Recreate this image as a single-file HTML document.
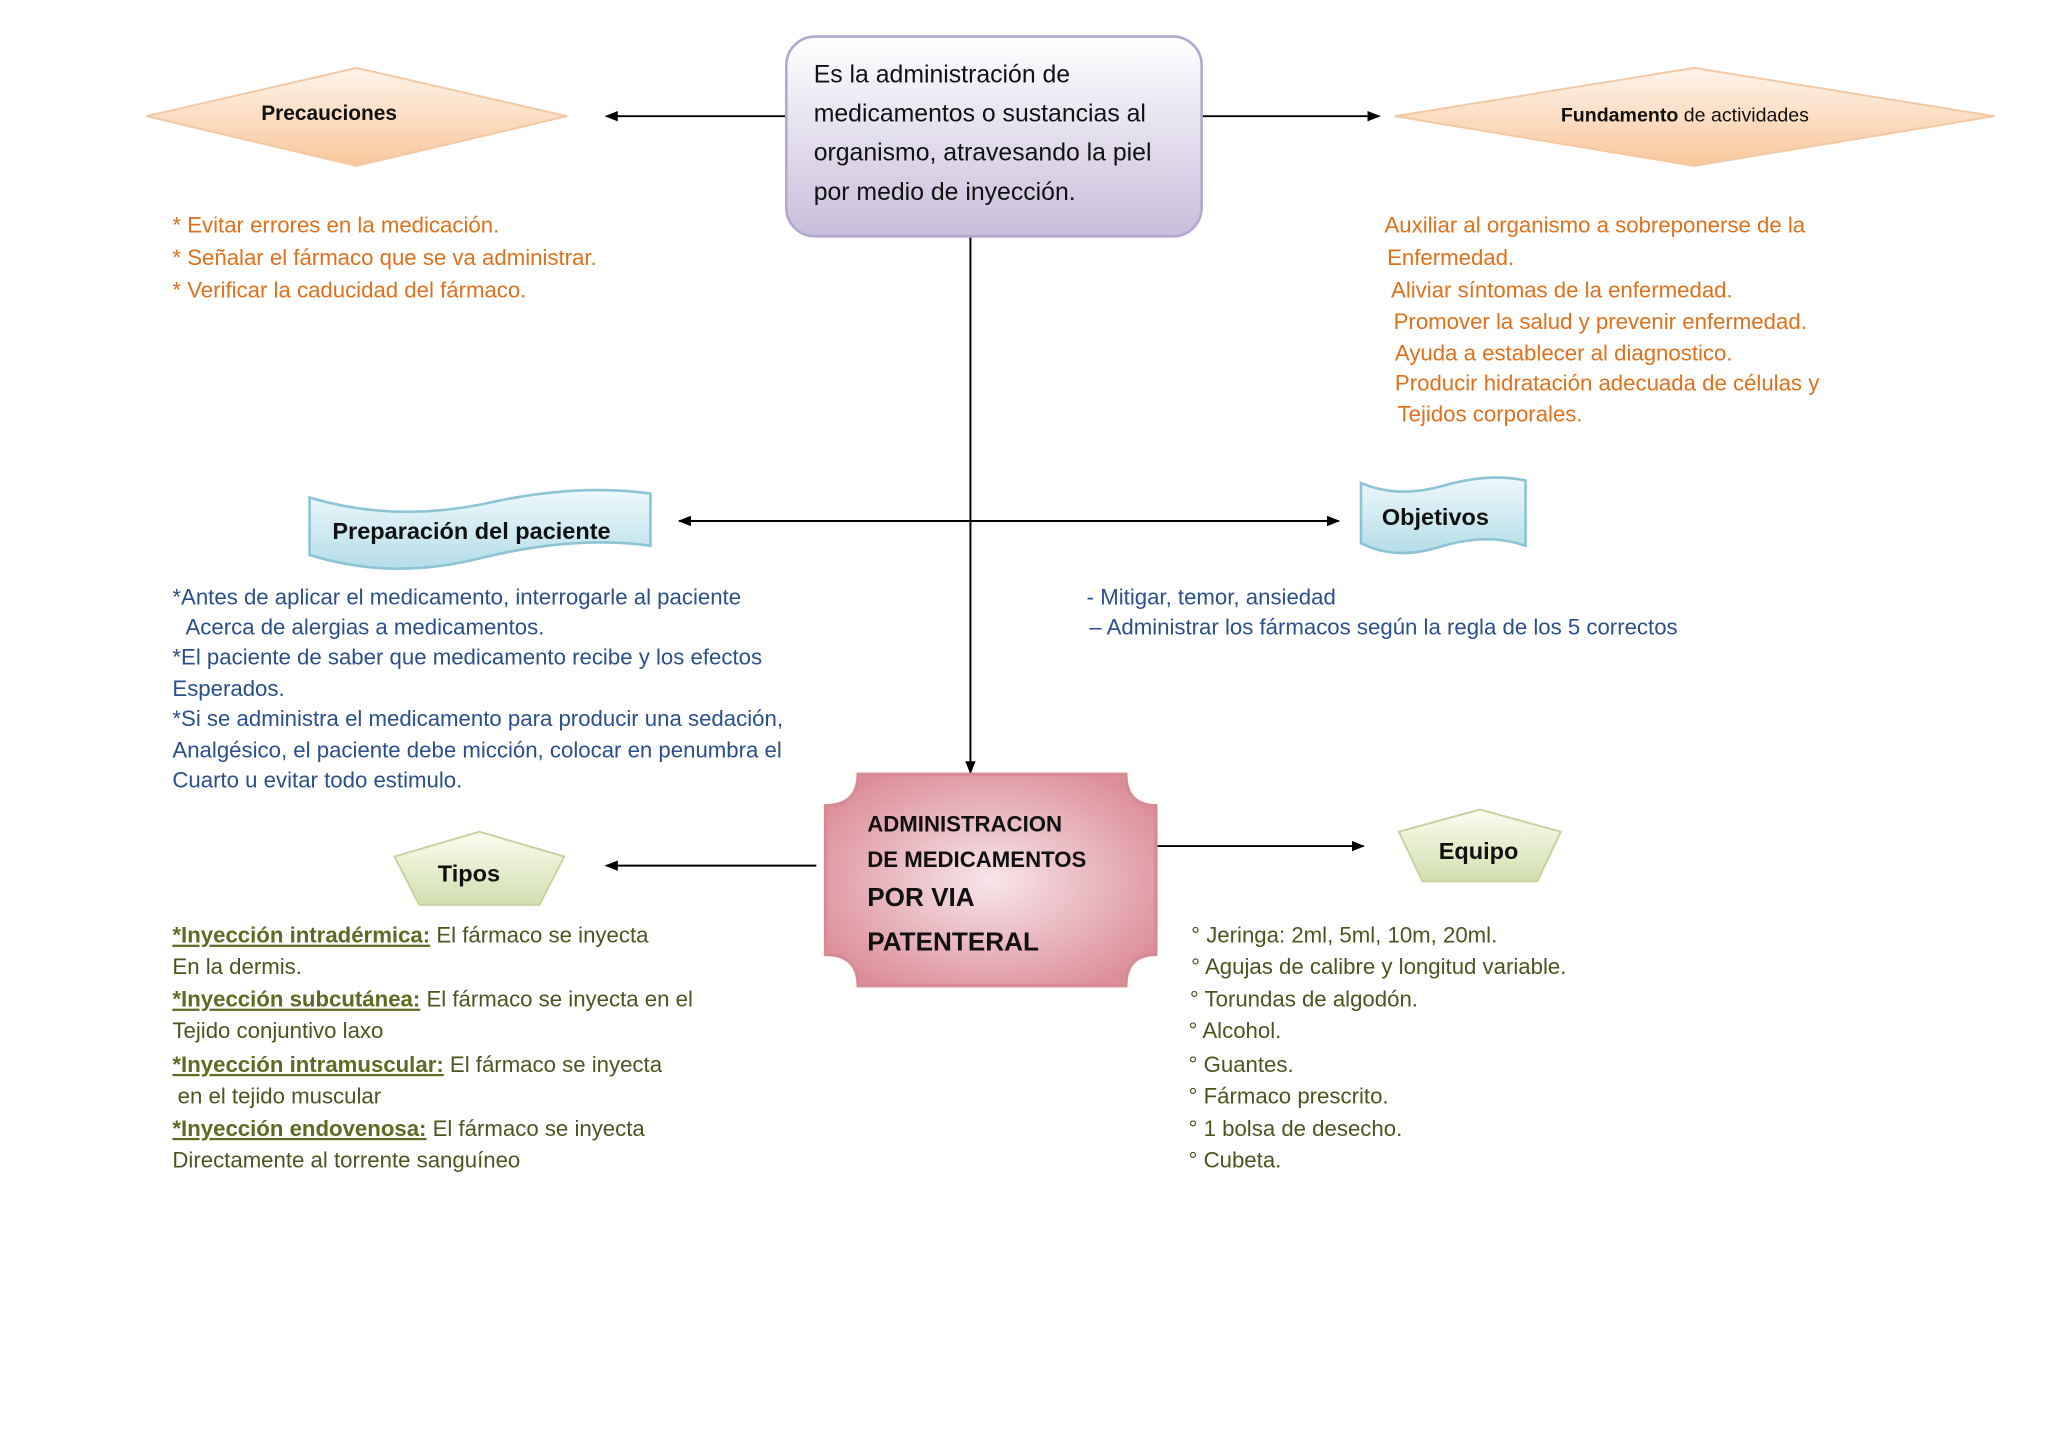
<!DOCTYPE html>
<html><head><meta charset="utf-8"><style>
html,body{margin:0;padding:0;background:#fff;}
svg{display:block;}
text{font-family:"Liberation Sans","DejaVu Sans",sans-serif;}
</style></head><body>
<svg width="2048" height="1448" viewBox="0 0 1568 1109" preserveAspectRatio="none" xmlns="http://www.w3.org/2000/svg">
<defs>
<linearGradient id="lav" x1="0" y1="0" x2="0" y2="1"><stop offset="0" stop-color="#ffffff"/><stop offset="1" stop-color="#c8bedb"/></linearGradient>
<linearGradient id="peach" x1="0" y1="0" x2="0" y2="1"><stop offset="0" stop-color="#fff4ea"/><stop offset="1" stop-color="#f8c79c"/></linearGradient>
<linearGradient id="blue" x1="0" y1="0" x2="0" y2="1"><stop offset="0" stop-color="#eef9fc"/><stop offset="1" stop-color="#b4dde8"/></linearGradient>
<radialGradient id="pink" cx="0.5" cy="0.5" r="0.6"><stop offset="0" stop-color="#f7e6ea"/><stop offset="1" stop-color="#dc8e98"/></radialGradient>
<linearGradient id="green" x1="0" y1="0" x2="0" y2="1"><stop offset="0" stop-color="#fbfdf0"/><stop offset="1" stop-color="#d2dfae"/></linearGradient>
<marker id="ar" markerWidth="10" markerHeight="8" refX="9" refY="4" orient="auto" markerUnits="userSpaceOnUse"><path d="M0,0 L10,4 L0,8 z" fill="#000"/></marker>
<marker id="al" markerWidth="10" markerHeight="8" refX="1" refY="4" orient="auto" markerUnits="userSpaceOnUse"><path d="M10,0 L0,4 L10,8 z" fill="#000"/></marker>
</defs>

<line x1="602" y1="89" x2="464" y2="89" stroke="#000" stroke-width="1.5" marker-end="url(#ar)"/>
<line x1="920" y1="89" x2="1056" y2="89" stroke="#000" stroke-width="1.5" marker-end="url(#ar)"/>
<line x1="743" y1="181" x2="743" y2="592" stroke="#000" stroke-width="1.5" marker-end="url(#ar)"/>
<line x1="520" y1="399" x2="1025" y2="399" stroke="#000" stroke-width="1.5" marker-start="url(#al)" marker-end="url(#ar)"/>
<line x1="625" y1="663" x2="464" y2="663" stroke="#000" stroke-width="1.5" marker-end="url(#ar)"/>
<line x1="882" y1="648" x2="1044" y2="648" stroke="#000" stroke-width="1.5" marker-end="url(#ar)"/>

<rect x="602" y="28" width="318" height="153" rx="22" fill="url(#lav)" stroke="#b3a8cf" stroke-width="2"/>
<g font-size="19" fill="#111">
<text x="623" y="63">Es la administración de</text>
<text x="623" y="93">medicamentos o sustancias al</text>
<text x="623" y="123">organismo, atravesando la piel</text>
<text x="623" y="153">por medio de inyección.</text>
</g>

<polygon points="112,89 273,52 434,89 273,127" fill="url(#peach)" stroke="#f3c9a4" stroke-width="1.5"/>
<text x="252" y="92" font-size="16" font-weight="bold" text-anchor="middle" fill="#111">Precauciones</text>
<polygon points="1068,89 1297,52 1527,89 1297,127" fill="url(#peach)" stroke="#f3c9a4" stroke-width="1.5"/>
<text x="1290" y="93" font-size="15" text-anchor="middle" fill="#111"><tspan font-weight="bold">Fundamento</tspan> de actividades</text>

<g font-size="17" fill="#e0701c">
<text x="132" y="178">*  Evitar errores en la medicación.</text>
<text x="132" y="203">* Señalar el fármaco que se va administrar.</text>
<text x="132" y="228">* Verificar la caducidad del fármaco.</text>
<text x="1060" y="178">Auxiliar al organismo a sobreponerse de la</text>
<text x="1062" y="203">Enfermedad.</text>
<text x="1065" y="228">Aliviar síntomas de la enfermedad.</text>
<text x="1067" y="252">Promover la salud y prevenir enfermedad.</text>
<text x="1068" y="276">Ayuda a establecer  al diagnostico.</text>
<text x="1068" y="299">Producir hidratación adecuada de  células y</text>
<text x="1070" y="323">Tejidos corporales.</text>
</g>

<path d="M237,381 L237,425 Q300,445 370,427 Q440,410 498,418 L498,378 Q440,370 370,386 Q300,400 237,381 Z" fill="url(#blue)" stroke="#8cc4d6" stroke-width="2"/>
<text x="361" y="413" font-size="18" font-weight="bold" text-anchor="middle" fill="#111">Preparación del paciente</text>
<path d="M1042,370 L1042,416 Q1070,430 1105,418 Q1140,408 1168,418 L1168,368 Q1140,362 1105,372 Q1070,382 1042,370 Z" fill="url(#blue)" stroke="#8cc4d6" stroke-width="2"/>
<text x="1099" y="402" font-size="18" font-weight="bold" text-anchor="middle" fill="#111">Objetivos</text>

<g font-size="17" fill="#2a4f8c">
<text x="132" y="463">*Antes de aplicar el medicamento, interrogarle al paciente</text>
<text x="142" y="486">Acerca de alergias a medicamentos.</text>
<text x="132" y="509">*El paciente de saber que  medicamento recibe y los efectos</text>
<text x="132" y="533">Esperados.</text>
<text x="132" y="556">*Si se administra el medicamento para producir una sedación,</text>
<text x="132" y="580">Analgésico, el paciente debe micción, colocar en penumbra el</text>
<text x="132" y="603">Cuarto u evitar todo estimulo.</text>
<text x="832" y="463">- Mitigar, temor, ansiedad</text>
<text x="834" y="486">– Administrar los fármacos según la regla de los 5 correctos</text>
</g>

<path d="M657,593 L862,593 Q862,617 885,617 L885,731 Q862,731 862,755 L657,755 Q657,731 632,731 L632,617 Q657,617 657,593 Z" fill="url(#pink)" stroke="#d58a94" stroke-width="2.5"/>
<g font-weight="bold" fill="#111">
<text x="664" y="637" font-size="17">ADMINISTRACION</text>
<text x="664" y="664" font-size="17">DE MEDICAMENTOS</text>
<text x="664" y="694" font-size="20">POR VIA</text>
<text x="664" y="728" font-size="20">PATENTERAL</text>
</g>

<polygon points="302,656 367,637 432,656 413,693 321,693" fill="url(#green)" stroke="#c6d3a0" stroke-width="1.5"/>
<text x="359" y="675" font-size="18" font-weight="bold" text-anchor="middle" fill="#111">Tipos</text>
<polygon points="1071,637 1133,620 1195,637 1177,675 1089,675" fill="url(#green)" stroke="#c6d3a0" stroke-width="1.5"/>
<text x="1132" y="658" font-size="18" font-weight="bold" text-anchor="middle" fill="#111">Equipo</text>

<g font-size="17" fill="#4a5520">
<text x="132" y="722"><tspan font-weight="bold" fill="#5c6b22" text-decoration="underline">*Inyección intradérmica:</tspan> El fármaco se inyecta</text>
<text x="132" y="746">En la dermis.</text>
<text x="132" y="771"><tspan font-weight="bold" fill="#5c6b22" text-decoration="underline">*Inyección subcutánea:</tspan> El fármaco se inyecta en el</text>
<text x="132" y="795">Tejido conjuntivo laxo</text>
<text x="132" y="821"><tspan font-weight="bold" fill="#5c6b22" text-decoration="underline">*Inyección intramuscular:</tspan> El fármaco se inyecta</text>
<text x="136" y="845">en el tejido muscular</text>
<text x="132" y="870"><tspan font-weight="bold" fill="#5c6b22" text-decoration="underline">*Inyección endovenosa:</tspan> El fármaco se inyecta</text>
<text x="132" y="894">Directamente al torrente sanguíneo</text>
<text x="912" y="722">° Jeringa: 2ml, 5ml, 10m, 20ml.</text>
<text x="912" y="746">° Agujas de calibre y longitud variable.</text>
<text x="911" y="771">° Torundas de algodón.</text>
<text x="910" y="795">° Alcohol.</text>
<text x="910" y="821">° Guantes.</text>
<text x="910" y="845">° Fármaco prescrito.</text>
<text x="910" y="870">° 1 bolsa de desecho.</text>
<text x="910" y="894">° Cubeta.</text>
</g>
</svg>
</body></html>
